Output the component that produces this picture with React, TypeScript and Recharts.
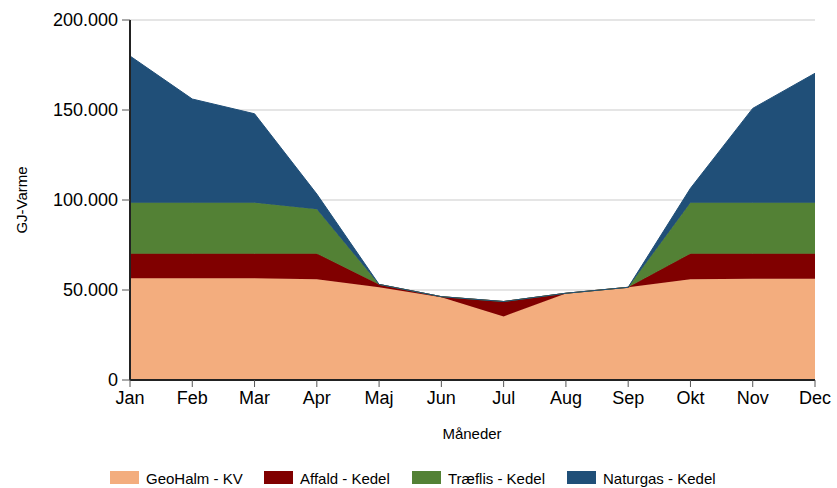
import React from 'react';
import { AreaChart, Area, XAxis, YAxis, CartesianGrid } from 'recharts';

const months = ['Jan', 'Feb', 'Mar', 'Apr', 'Maj', 'Jun', 'Jul', 'Aug', 'Sep', 'Okt', 'Nov', 'Dec'];
const geoHalm = [56500, 56500, 56500, 56000, 51500, 46000, 35300, 48000, 51500, 56000, 56200, 56200];
const affald = [13700, 13700, 13700, 14200, 1600, 300, 8300, 200, 0, 14200, 14000, 14000];
const traeflis = [28300, 28300, 28300, 24600, 0, 0, 0, 0, 0, 28300, 28300, 28300];
const naturgas = [81500, 57600, 49400, 8500, 0, 0, 0, 0, 0, 8000, 52400, 71900];
const yTicks = [0, 50000, 100000, 150000, 200000];

const series = [
  { key: 'geo', name: 'GeoHalm - KV', color: '#F3AD7E', values: geoHalm },
  { key: 'aff', name: 'Affald - Kedel', color: '#800000', values: affald },
  { key: 'trae', name: 'Træflis - Kedel', color: '#538135', values: traeflis },
  { key: 'gas', name: 'Naturgas - Kedel', color: '#204F78', values: naturgas },
];

const data = months.map((m, i) => {
  const row: any = { month: m };
  series.forEach((s) => { row[s.key] = s.values[i]; });
  return row;
});

const fmt = (v: number) => (v === 0 ? '0' : v.toLocaleString('de-DE'));

const legendPos = [110, 264, 412, 567];

export default function App() {
  return (
    <div style={{ position: 'absolute', left: 0, top: 0, width: 837, height: 488, fontFamily: 'Arial, "Liberation Sans", sans-serif' }}>
      <AreaChart width={837} height={488} data={data} margin={{ top: 20, right: 22, left: 0, bottom: 48 }}>
        <CartesianGrid vertical={false} stroke="#DDDDDD" strokeWidth={1.5} />
        <XAxis
          dataKey="month"
          height={60}
          tick={{ fontSize: 18, fill: '#000' }}
          tickSize={7}
          tickMargin={4}
          axisLine={{ stroke: '#222', strokeWidth: 2 }}
          tickLine={{ stroke: '#555' }}
          interval={0}
        />
        <YAxis
          width={130}
          domain={[0, 200000]}
          ticks={yTicks}
          tickFormatter={fmt}
          tick={{ fontSize: 18, fill: '#000' }}
          tickSize={8}
          tickMargin={4}
          axisLine={{ stroke: '#222', strokeWidth: 2 }}
          tickLine={{ stroke: '#555' }}
        />
        {series.map((s) => (
          <Area
            key={s.key}
            dataKey={s.key}
            name={s.name}
            stackId="1"
            type="linear"
            stroke={s.color}
            strokeWidth={1}
            fill={s.color}
            fillOpacity={1}
            dot={false}
            activeDot={false}
            isAnimationActive={false}
          />
        ))}
        <text x={21} y={200} transform="rotate(-90 21 200)" textAnchor="middle" dominantBaseline="central" fontSize={15} fill="#000">GJ-Varme</text>
        <text x={472} y={433} textAnchor="middle" dominantBaseline="central" fontSize={15} fill="#000">Måneder</text>
        {series.map((s, i) => (
          <g key={'lg' + s.key}>
            <rect x={legendPos[i]} y={471} width={29} height={13} fill={s.color} />
            <text x={legendPos[i] + 36} y={478} dominantBaseline="central" fontSize={15} fill="#000">{s.name}</text>
          </g>
        ))}
      </AreaChart>
    </div>
  );
}
